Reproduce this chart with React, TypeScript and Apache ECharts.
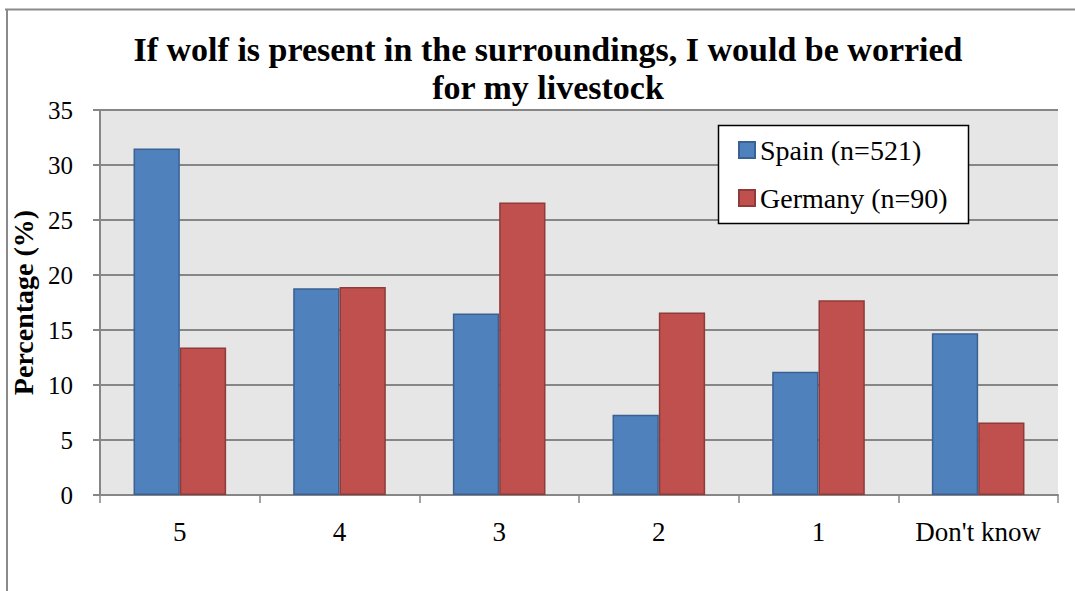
import React, { useEffect, useRef } from "react";
import * as echarts from "echarts";

const categories = ["5", "4", "3", "2", "1", "Don't know"];
const spain = [31.5, 18.8, 16.5, 7.3, 11.2, 14.7];
const germany = [13.4, 18.9, 26.6, 16.6, 17.7, 6.6];
const seriesNames = ["Spain (n=521)", "Germany (n=90)"];
const titleText = "If wolf is present in the surroundings, I would be worried\nfor my livestock";
const yAxisName = "Percentage (%)";

const FONT = "'Liberation Serif', 'DejaVu Serif', serif";

export default function App() {
  const ref = useRef<HTMLDivElement>(null);
  useEffect(() => {
    if (!ref.current) return;
    const chart = echarts.init(ref.current, null, { renderer: "svg" });
    chart.setOption({
      animation: false,
      backgroundColor: "#ffffff",
      title: {
        text: titleText,
        left: 548,
        textAlign: "center",
        top: 30,
        padding: 0,
        textStyle: {
          fontFamily: FONT,
          fontWeight: "bold",
          fontSize: 34,
          lineHeight: 38,
          color: "#000",
        },
      },
      graphic: [
        {
          type: "line",
          shape: { x1: 5, y1: 9.5, x2: 1075, y2: 9.5 },
          style: { stroke: "#8a8a8a", lineWidth: 2 },
          z: 10,
        },
        {
          type: "line",
          shape: { x1: 7, y1: 9, x2: 7, y2: 591 },
          style: { stroke: "#8a8a8a", lineWidth: 2 },
          z: 10,
        },
        {
          type: "rect",
          shape: { x: 718.5, y: 125.5, width: 250, height: 98 },
          style: { fill: "#ffffff", stroke: "#000000", lineWidth: 1.5 },
          z: 5,
        },
      ],
      legend: {
        orient: "vertical",
        left: 738,
        top: 136,
        padding: 0,
        itemWidth: 16,
        itemHeight: 16,
        itemGap: 20,
        z: 6,
        icon: "rect",
        textStyle: { fontFamily: FONT, fontSize: 28, color: "#000", padding: [0, 0, 0, 0] },
        data: seriesNames,
      },
      grid: {
        left: 100,
        right: 17,
        top: 110,
        bottom: 96,
        backgroundColor: "#e6e6e6",
        show: true,
        borderWidth: 0,
        containLabel: false,
        outerBoundsMode: "none",
      },
      xAxis: {
        type: "category",
        data: categories,
        axisLine: { lineStyle: { color: "#868686", width: 2 } },
        axisTick: { show: true, length: 8, lineStyle: { color: "#868686", width: 1.5 } },
        axisLabel: { fontFamily: FONT, fontSize: 27, color: "#000", margin: 23, interval: 0, hideOverlap: false },
      },
      yAxis: {
        type: "value",
        min: 0,
        max: 35,
        interval: 5,
        name: yAxisName,
        nameLocation: "middle",
        nameGap: 61,
        nameRotate: 90,
        nameTextStyle: { fontFamily: FONT, fontSize: 28, fontWeight: "bold", color: "#000" },
        axisLine: { show: true, lineStyle: { color: "#868686", width: 2 } },
        axisTick: { show: true, length: 7, lineStyle: { color: "#868686", width: 2 } },
        axisLabel: { fontFamily: FONT, fontSize: 25, color: "#000", margin: 27 },
        splitLine: { lineStyle: { color: "#868686", width: 2 } },
      },
      series: [
        {
          name: seriesNames[0],
          type: "bar",
          data: spain,
          barGap: "0%",
          barCategoryGap: "42%",
          itemStyle: { color: "#4f81bd", borderColor: "#3a6192", borderWidth: 1.5 },
        },
        {
          name: seriesNames[1],
          type: "bar",
          data: germany,
          itemStyle: { color: "#c0504d", borderColor: "#8e3b39", borderWidth: 1.5 },
        },
      ],
    });
    return () => chart.dispose();
  }, []);
  return (
    <div
      ref={ref}
      style={{ position: "fixed", left: 0, top: 0, width: 1075, height: 591 }}
    />
  );
}
